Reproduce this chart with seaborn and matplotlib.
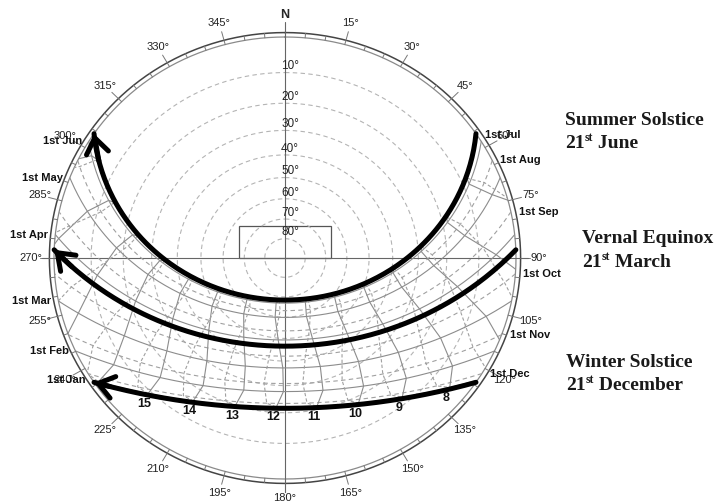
import numpy as np
import matplotlib
matplotlib.use('Agg')
import matplotlib.pyplot as plt
from matplotlib.patches import Circle, Rectangle
import seaborn as sns

# site / sun data
latitude = 45.0
lon_offset = 4.0   # hour-angle shift between local and standard meridian (deg)
months = ['Jan', 'Feb', 'Mar', 'Apr', 'May', 'Jun',
          'Jul', 'Aug', 'Sep', 'Oct', 'Nov', 'Dec']
declination = [-23.0, -17.3, -7.9, 4.3, 14.9, 21.9,
               23.1, 18.2, 8.5, -2.9, -14.2, -21.7]      # 1st of each month
eq_of_time = [-3.2, -13.6, -12.5, -4.1, 2.9, 2.2,
              -3.8, -6.3, -0.1, 10.1, 16.4, 11.2]         # minutes
clock_hours = list(range(5, 20))
labelled_hours = [8, 9, 10, 11, 12, 13, 14, 15]
altitude_rings = [10, 20, 30, 40, 50, 60, 70, 80]
azimuth_labels = list(range(15, 360, 15))
key_titles = ['Summer Solstice', 'Vernal Equinox', 'Winter Solstice']
key_months = ['June', 'March', 'December']
key_decl = [23.44, 1.5, -23.44]   # hand-drawn arrows

sns.set_theme(style='white')
plt.rcParams['font.family'] = ['Liberation Sans', 'DejaVu Sans']

fig = plt.figure(figsize=(7.17, 5.04), dpi=100)
ax = fig.add_axes([0, 0, 1, 1])
horizon = Circle((0, 0), 1.0, transform=ax.transData)


def project(az, alt):
    # stereographic sun-path projection, N up, E right
    r = np.tan(np.radians(90 - np.asarray(alt, dtype=float)) / 2)
    a = np.radians(az)
    return r * np.sin(a), r * np.cos(a)


def sun(dec, H):
    phi, d, h = np.radians(latitude), np.radians(dec), np.radians(H)
    alt = np.degrees(np.arcsin(np.sin(phi) * np.sin(d) + np.cos(phi) * np.cos(d) * np.cos(h)))
    az = 180 + np.degrees(np.arctan2(np.sin(h), np.cos(h) * np.sin(phi) - np.tan(d) * np.cos(phi)))
    return az, alt


def day_arc(dec):
    h0 = np.degrees(np.arccos(-np.tan(np.radians(latitude)) * np.tan(np.radians(dec))))
    H = np.linspace(-h0, h0, 200)
    return project(*sun(dec, H))


def line(x, y, clip=True, **kw):
    sns.lineplot(x=np.asarray(x), y=np.asarray(y), sort=False, estimator=None,
                 ax=ax, legend=False, **kw)
    ln = ax.lines[-1]
    if clip:
        ln.set_clip_path(horizon)
    return ln


theta = np.radians(np.linspace(0, 360, 361))

# altitude rings
for alt in altitude_rings:
    r = np.tan(np.radians(90 - alt) / 2)
    line(r * np.sin(theta), r * np.cos(theta), color='#b4b4b4', lw=0.8,
         linestyle=(0, (4, 3)))
    ax.text(0.022, r + 0.028, f'{alt}°', ha='center', va='center',
            fontsize=8.5, color='#222222')

# horizon and outer ring
line(np.sin(theta), np.cos(theta), clip=False, color='#8a8a8a', lw=0.9)
line(1.02 * np.sin(theta), 1.02 * np.cos(theta), clip=False, color='#444444', lw=1.1)
for a in range(0, 360, 5):
    ro = 1.06 if a % 15 == 0 else 1.02
    s, c = np.sin(np.radians(a)), np.cos(np.radians(a))
    ax.plot([s, ro * s], [c, ro * c], color='#777777', lw=0.7)

# N-S and E-W axes
ax.plot([0, 0], [-1.06, 1.07], color='#666666', lw=0.8)
ax.plot([-1.05, 1.05], [0, 0], color='#666666', lw=0.8)
ax.add_patch(Rectangle((-0.2, 0), 0.4, 0.146, fill=False, ec='#555555', lw=0.9))

for a in azimuth_labels:
    s, c = np.sin(np.radians(a)), np.cos(np.radians(a))
    rl = 1.085 if a == 180 else 1.10
    ax.text(rl * s, rl * c, f'{a}°', ha='center', va='center',
            fontsize=8, color='#222222')
ax.text(0, 1.10, 'N', ha='center', va='center', fontsize=9, fontweight='bold')

# date lines: Jan-Jun solid, Jul-Dec dashed
for i, m in enumerate(months):
    x, y = day_arc(declination[i])
    if i < 6:
        line(x, y, color='#8c8c8c', lw=0.8)
        ax.text(x[-1] - 0.03, y[-1], f'1st {m}', ha='right', va='center',
                fontsize=8, fontweight='bold', color='#111111')
    else:
        line(x, y, color='#a0a0a0', lw=0.8, linestyle=(0, (4, 3)))
        ax.text(x[0] + 0.035, y[0], f'1st {m}', ha='left', va='center',
                fontsize=8, fontweight='bold', color='#111111')

# hour lines (clock time)
for hr in clock_hours:
    for seg, col, ls in ((range(0, 7), '#8c8c8c', '-'),
                         (range(6, 13), '#a0a0a0', (0, (3, 2)))):
        idx = [k % 12 for k in seg]
        H = np.array([15 * (hr - 12) + lon_offset + eq_of_time[k] / 4 for k in idx])
        dec = np.array([declination[k] for k in idx])
        x, y = project(*sun(dec, H))
        line(x, y, color=col, lw=0.8, linestyle=ls)

for hr in labelled_hours:
    H = 15 * (hr - 12) + lon_offset + eq_of_time[0] / 4
    x, y = project(*sun(declination[0], H))
    ax.text(x - 0.015, y - 0.047, str(hr), ha='center', va='center',
            fontsize=9, fontweight='bold', color='#111111')

# hand-drawn solstice / equinox arrows
for dec in key_decl:
    x, y = day_arc(dec)
    line(x, y, clip=False, color='black', lw=3.6)
    ax.annotate('', xy=(x[-1], y[-1]), xytext=(x[-8], y[-8]),
                arrowprops=dict(arrowstyle='->,head_length=0.55,head_width=0.4',
                                lw=3.6, color='black', shrinkA=0, shrinkB=0,
                                mutation_scale=20))

# key text on the right
serif = dict(family='Liberation Serif', fontweight='bold', fontsize=14, color='#1a1a1a')
key_pos = [(0.788, 0.752, 0.706), (0.812, 0.518, 0.470), (0.789, 0.272, 0.226)]
for title, month, (kx, ky1, ky2) in zip(key_titles, key_months, key_pos):
    ax.text(kx, ky1, title, transform=ax.transAxes, ha='left', va='baseline', **serif)
    t1 = ax.text(kx, ky2, '21', transform=ax.transAxes, ha='left', va='baseline', **serif)
    t2 = ax.annotate('st', xy=(1, 0.5), xycoords=t1, ha='left', va='bottom',
                     family='Liberation Serif', fontweight='bold', fontsize=8.5,
                     color='#1a1a1a')
    ax.annotate(' ' + month, xy=(1, 0), xycoords=(t2, t1), ha='left', va='bottom', **serif)

ax.set_xlim(-285 / 231, 432 / 231)
ax.set_ylim(-246 / 221, 258 / 221)
ax.axis('off')
fig.savefig('out.png', dpi=100, facecolor='white')
